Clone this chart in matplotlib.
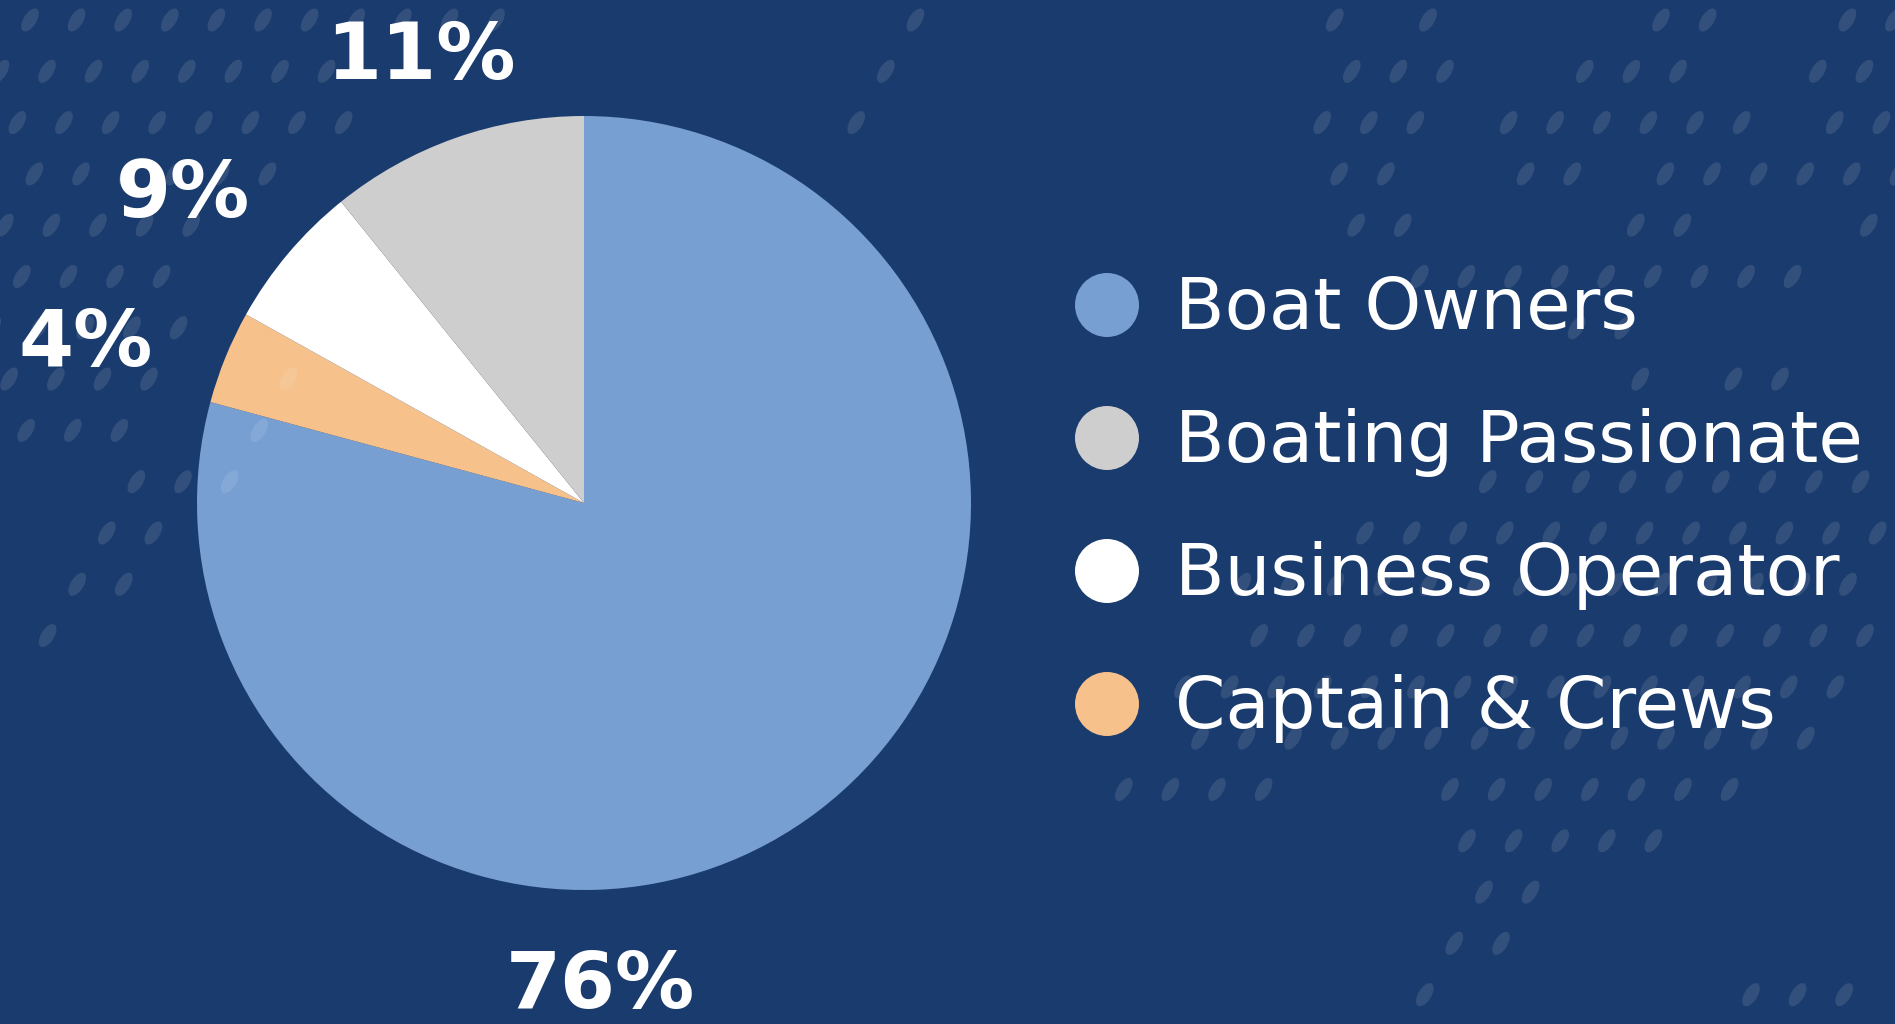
import matplotlib.pyplot as plt
from matplotlib.patches import Ellipse, Circle

# slice data (clockwise from 12 o'clock, as drawn)
slice_names = ["Boat Owners", "Captain & Crews", "Business Operator", "Boating Passionate"]
slice_share = [79.2, 3.9, 6.1, 10.8]
slice_labels = ["76%", "4%", "9%", "11%"]
slice_colors = ["#779fd2", "#f6c18a", "#ffffff", "#cfcecf"]

# legend entries, top to bottom
legend_names = ["Boat Owners", "Boating Passionate", "Business Operator", "Captain & Crews"]
legend_colors = ["#779fd2", "#cfcecf", "#ffffff", "#f6c18a"]

# label anchor points in image pixels (x centre, baseline)
label_pos = [(600, 1008), (86, 366), (183, 217), (421, 79)]

BG = "#1a3b6d"
W, H = 1895, 1024

# decorative dot pattern: x ranges (image px) per row
dot_rows = [
    [(30, 497), (912, 912), (1333, 1333), (1424, 1424), (1657, 1703), (1842, 1895)],
    [(0, 327), (885, 885), (1348, 1442), (1581, 1675), (1815, 1860)],
    [(18, 342), (855, 855), (1318, 1412), (1503, 1736), (1830, 1875)],
    [(33, 270), (1336, 1381), (1521, 1566), (1660, 1890)],
    [(6, 191), (1351, 1396), (1630, 1678), (1863, 1863)],
    [(21, 161), (1418, 1787)],
    [(0, 182), (1569, 1618)],
    [(9, 152), (279, 279), (1636, 1636), (1730, 1775)],
    [(27, 121), (261, 261)],
    [(139, 230), (1484, 1890)],
    [(106, 155), (1363, 1872)],
    [(76, 124), (1255, 1869)],
    [(48, 48), (1254, 1860)],
    [(1200, 1831)],
    [(1193, 1800)],
    [(1121, 1260), (1445, 1724)],
    [(1460, 1648)],
    [(1478, 1527)],
    [(1451, 1497)],
    [(1421, 1421), (1745, 1839)],
]

fig = plt.figure(figsize=(W / 100, H / 100), dpi=100, facecolor=BG)
ax = fig.add_axes([0, 0, 1, 1])
ax.set_facecolor(BG)

ax.pie(slice_share, colors=slice_colors, startangle=90, counterclock=False,
       center=(584, H - 503), radius=387, wedgeprops=dict(linewidth=0))
ax.set_xlim(0, W)
ax.set_ylim(0, H)
ax.set_aspect("equal")
ax.axis("off")

# dots
for k, segs in enumerate(dot_rows):
    y = 20 + 51.3 * k
    phase = (30 + 17 * k) % 46.6
    x = phase - 46.6
    while x < W + 20:
        if any(a - 20 <= x <= b + 20 for a, b in segs):
            ax.add_patch(Ellipse((x, H - y), 26, 13, angle=58, facecolor="white",
                                 alpha=0.11, linewidth=0, zorder=3))
        x += 46.6

for txt, (x, y) in zip(slice_labels, label_pos):
    ax.text(x, H - y, txt, ha="center", va="baseline", color="white",
            fontsize=57, fontweight="bold", family="DejaVu Sans", zorder=6)

for i, (name, c) in enumerate(zip(legend_names, legend_colors)):
    cy = 305 + 133 * i
    ax.add_patch(Circle((1107, H - cy), 32, facecolor=c, linewidth=0, zorder=5))
    ax.text(1175, H - (cy + 24), name, ha="left", va="baseline", color="white",
            fontsize=52, family="DejaVu Sans", zorder=6)

fig.savefig("out.png", dpi=100, facecolor=BG)
